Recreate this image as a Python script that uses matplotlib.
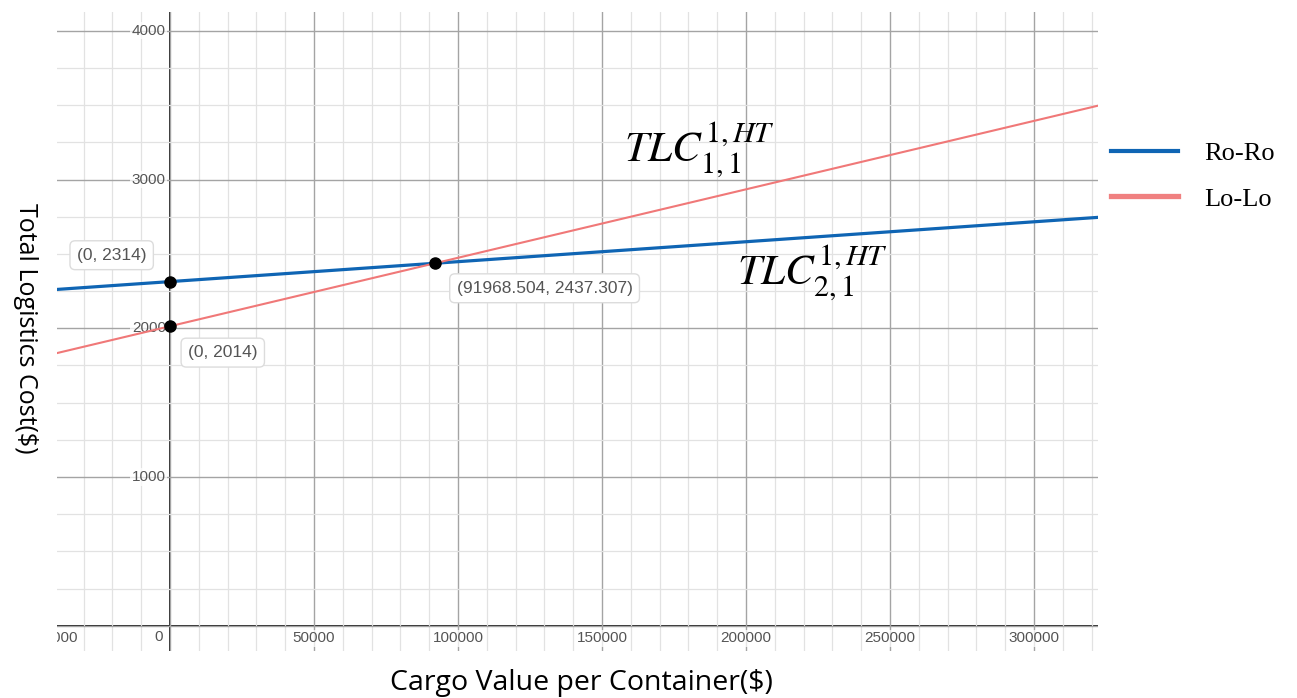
import numpy as np
import matplotlib.pyplot as plt
from matplotlib.lines import Line2D

# intercepts at x=0 and the crossing point of the two cost lines
roro_intercept = 2314
lolo_intercept = 2014
cross_x = 91968.504
cross_y = 2437.307

x_major = [50000, 100000, 150000, 200000, 250000, 300000]
y_major = [1000, 2000, 3000, 4000]

xmin, xmax = -39236, 322222
ymin, ymax = -170, 4127

roro_slope = (cross_y - roro_intercept) / cross_x
lolo_slope = (cross_y - lolo_intercept) / cross_x

plt.rcParams['mathtext.fontset'] = 'stix'

fig = plt.figure(figsize=(12.97, 6.98), dpi=100)
ax = fig.add_axes([57 / 1297, 47 / 698, 1041 / 1297, 639 / 698])

ax.set_xticks(np.arange(-50000, 350001, 50000))
ax.set_xticks(np.arange(-50000, 350001, 10000), minor=True)
ax.set_yticks(np.arange(0, 4001, 1000))
ax.set_yticks(np.arange(0, 4251, 250), minor=True)
ax.set_xlim(xmin, xmax)
ax.set_ylim(ymin, ymax)
ax.grid(which='major', color='#a4a4a4', lw=1.0, zorder=0)
ax.grid(which='minor', color='#e2e2e2', lw=0.9, zorder=0)
ax.tick_params(which='both', length=0, labelbottom=False, labelleft=False)
for s in ax.spines.values():
    s.set_visible(False)

ax.axhline(0, color='#222222', lw=1.4, zorder=1)
ax.axvline(0, color='#222222', lw=1.4, zorder=1)

tick_kw = dict(fontsize=11, color='#555555', family='Liberation Sans',
               textcoords='offset points', zorder=2,
               bbox=dict(boxstyle='square,pad=0.1', fc='white', ec='none', alpha=0.75))
for xv in x_major:
    ax.annotate(str(xv), (xv, 0), xytext=(0, -4), ha='center', va='top', **tick_kw)
for yv in y_major:
    ax.annotate(str(yv), (0, yv), xytext=(-3, 0), ha='right', va='center', **tick_kw)
ax.annotate('0', (0, 0), xytext=(-5, -3), ha='right', va='top', **tick_kw)
# leftmost label is cut by the plot edge
ax.annotate('-50000', (xmin, 0), xytext=(15, -4), ha='right', va='top', clip_on=True, **tick_kw)

xs = np.array([xmin, xmax])
ax.plot(xs, roro_intercept + roro_slope * xs, color='#0f65b4', lw=2.3, zorder=3)
ax.plot(xs, lolo_intercept + lolo_slope * xs, color='#f07878', lw=1.5, zorder=3)

ax.plot([0, 0, cross_x], [roro_intercept, lolo_intercept, cross_y], 'o',
        color='black', ms=8, zorder=4)

box_kw = dict(textcoords='offset points', ha='center', va='center', fontsize=12.5,
              color='#555555', family='Liberation Sans', zorder=5,
              bbox=dict(boxstyle='round,pad=0.4,rounding_size=0.3', fc='white', ec='#dcdcdc', lw=1))
ax.annotate('(0, %d)' % roro_intercept, (0, roro_intercept), xytext=(-42, 19), **box_kw)
ax.annotate('(0, %d)' % lolo_intercept, (0, lolo_intercept), xytext=(38, -19), **box_kw)
ax.annotate('(%.3f, %.3f)' % (cross_x, cross_y), (cross_x, cross_y), xytext=(79, -18), **box_kw)

ax.text(184000, 3205, r'$TLC_{1,1}^{1,HT}$', fontsize=31, ha='center', va='center', zorder=5)
ax.text(223000, 2380, r'$TLC_{2,1}^{1,HT}$', fontsize=31, ha='center', va='center', zorder=5)

fig.text(581 / 1297, 1 - 683 / 698, 'Cargo Value per Container($)', ha='center', va='center',
         fontsize=20.5, family='Open Sans')
fig.text(25 / 1297, 1 - 328 / 698, 'Total Logistics Cost($)', ha='center', va='center',
         rotation=-90, fontsize=18, family='Open Sans')

handles = [Line2D([], [], color='#0f65b4', lw=3),
           Line2D([], [], color='#f08080', lw=3.8)]
fig.legend(handles, ['Ro-Ro', 'Lo-Lo'], loc='center left', bbox_to_anchor=(1111 / 1297, 1 - 176 / 698),
           frameon=False, prop=dict(family='Liberation Serif', size=19),
           handlelength=2.55, handletextpad=1.0, labelspacing=0.85,
           borderpad=0, borderaxespad=0)

fig.savefig('out.png', dpi=100)
